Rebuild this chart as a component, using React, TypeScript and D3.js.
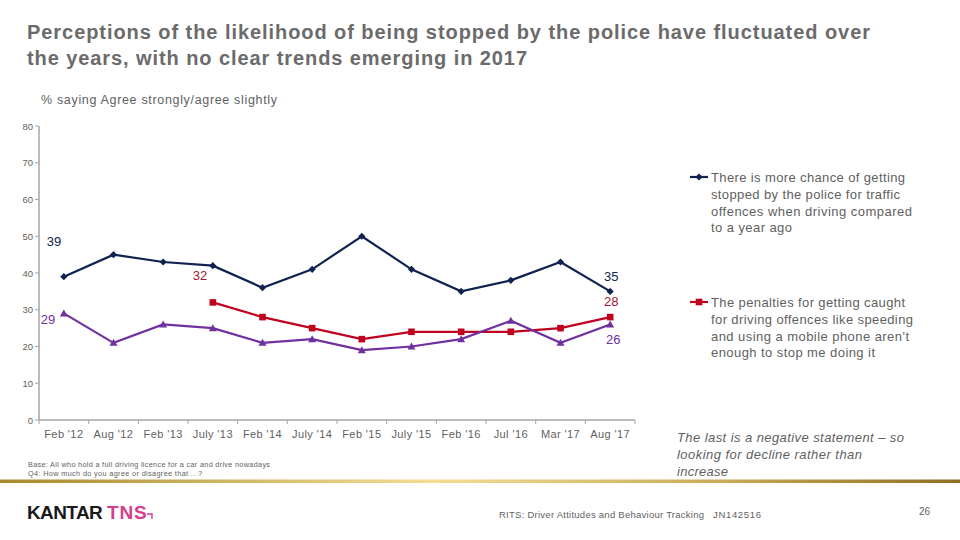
import React from "react";
import * as d3 from "d3";

const categories = ["Feb '12", "Aug '12", "Feb '13", "July '13", "Feb '14", "July '14", "Feb '15", "July '15", "Feb '16", "Jul '16", "Mar '17", "Aug '17"];
const chanceSeries: (number | null)[] = [39, 45, 43, 42, 36, 41, 50, 41, 35, 38, 43, 35];
const penaltySeries: (number | null)[] = [null, null, null, 32, 28, 25, 22, 24, 24, 24, 25, 28];
const thirdSeries: (number | null)[] = [29, 21, 26, 25, 21, 22, 19, 20, 22, 27, 21, 26];
const yTicks = [0, 10, 20, 30, 40, 50, 60, 70, 80];
const legendChance = ["There is more chance of getting", "stopped by the police for traffic", "offences when driving compared", "to a year ago"];
const legendPenalty = ["The penalties for getting caught", "for driving offences like speeding", "and using a mobile phone aren't", "enough to stop me doing it"];
const noteLines = ["The last is a negative statement \u2013 so", "looking for decline rather than", "increase"];

const NAVY = "#10224f";
const RED = "#c0001f";
const PURPLE = "#7030a0";
const GREY = "#5f5f5f";
const AXIS = "#a6a6a6";
const FONT = "'Liberation Sans', Arial, sans-serif";

export default function App() {
  const x0 = 39, x1 = 635, yTop = 126, yBot = 420;
  const x = d3.scaleBand<string>().domain(categories).range([x0, x1]);
  const y = d3.scaleLinear().domain([0, 80]).range([yBot, yTop]);
  const cx = (c: string) => (x(c) as number) + x.bandwidth() / 2;

  const line = d3.line<number | null>()
    .defined((d) => d !== null)
    .x((_, i) => cx(categories[i]))
    .y((d) => y(d as number));

  const pts = (s: (number | null)[]) =>
    s.map((v, i) => ({ v, c: categories[i] })).filter((p) => p.v !== null) as { v: number; c: string }[];

  const diamond = (px: number, py: number, r = 3.6) =>
    `M${px},${py - r}L${px + r},${py}L${px},${py + r}L${px - r},${py}Z`;
  const tri = (px: number, py: number, r = 4) =>
    `M${px},${py - r}L${px + r},${py + r * 0.75}L${px - r},${py + r * 0.75}Z`;

  const last = categories.length - 1;
  const legendW1 = [194, 189, 201, 81];
  const legendW2 = [194, 202, 198, 164];
  const noteW = [227, 185, 51];

  return (
    <svg width={960} height={540} style={{ position: "absolute", left: 0, top: 0, fontFamily: FONT }}>
      <defs>
        <linearGradient id="gold" x1="0" x2="1" y1="0" y2="0">
          <stop offset="0" stopColor="#a8892f" />
          <stop offset="0.45" stopColor="#f3dd95" />
          <stop offset="0.75" stopColor="#c9ab5a" />
          <stop offset="1" stopColor="#8f6f22" />
        </linearGradient>
      </defs>
      <rect width={960} height={540} fill="#fff" />
      <text x={27} y={39} fontSize={20} fontWeight="bold" fill="#6b6b6b" textLength={843} lengthAdjust="spacing">
        Perceptions of the likelihood of being stopped by the police have fluctuated over
      </text>
      <text x={27} y={65} fontSize={20} fontWeight="bold" fill="#6b6b6b" textLength={500} lengthAdjust="spacing">
        the years, with no clear trends emerging in 2017
      </text>
      <text x={41} y={104} fontSize={12.5} fill={GREY} textLength={236} lengthAdjust="spacing">% saying Agree strongly/agree slightly</text>

      {/* y axis */}
      <line x1={x0} x2={x0} y1={yTop} y2={yBot} stroke={AXIS} strokeWidth={1.5} />
      {yTicks.map((t) => (
        <g key={t}>
          <line x1={x0 - 4} x2={x0} y1={y(t)} y2={y(t)} stroke={AXIS} />
          <text x={33} y={y(t) + 3.5} fontSize={9.5} textAnchor="end" fill={GREY}>{t}</text>
        </g>
      ))}
      {/* x axis */}
      <line x1={x0} x2={x1} y1={yBot} y2={yBot} stroke={AXIS} strokeWidth={1.5} />
      {categories.map((c, i) => (
        <g key={c}>
          <line x1={(x(c) as number) + x.bandwidth()} x2={(x(c) as number) + x.bandwidth()} y1={yBot} y2={yBot + 4} stroke={AXIS} />
          {i === 0 && <line x1={x0} x2={x0} y1={yBot} y2={yBot + 4} stroke={AXIS} />}
          <text x={cx(c)} y={438} fontSize={11} textAnchor="middle" fill={GREY} letterSpacing={0.4}>{c}</text>
        </g>
      ))}

      {/* series */}
      <path d={line(chanceSeries) as string} fill="none" stroke={NAVY} strokeWidth={2.2} />
      {pts(chanceSeries).map((p) => <path key={p.c} d={diamond(cx(p.c), y(p.v))} fill={NAVY} />)}
      <path d={line(penaltySeries) as string} fill="none" stroke={RED} strokeWidth={2.2} />
      {pts(penaltySeries).map((p) => <rect key={p.c} x={cx(p.c) - 3.3} y={y(p.v) - 3.3} width={6.6} height={6.6} fill={RED} />)}
      <path d={line(thirdSeries) as string} fill="none" stroke={PURPLE} strokeWidth={2.2} />
      {pts(thirdSeries).map((p) => <path key={p.c} d={tri(cx(p.c), y(p.v))} fill={PURPLE} />)}

      {/* data labels */}
      <text x={cx(categories[0]) - 17} y={y(chanceSeries[0] as number) - 31} fontSize={13} fill={NAVY}>{chanceSeries[0]}</text>
      <text x={cx(categories[0]) - 23} y={y(thirdSeries[0] as number) + 11} fontSize={13} fill={PURPLE}>{thirdSeries[0]}</text>
      <text x={cx(categories[3]) - 20} y={y(penaltySeries[3] as number) - 22} fontSize={13} fill={"#a01530"}>{penaltySeries[3]}</text>
      <text x={cx(categories[last]) + 1} y={y(chanceSeries[last] as number) - 10} fontSize={13} textAnchor="middle" fill={NAVY}>{chanceSeries[last]}</text>
      <text x={cx(categories[last]) + 1} y={y(penaltySeries[last] as number) - 11} fontSize={13} textAnchor="middle" fill={"#a01530"}>{penaltySeries[last]}</text>
      <text x={cx(categories[last]) + 3} y={y(thirdSeries[last] as number) + 20} fontSize={13} textAnchor="middle" fill={PURPLE}>{thirdSeries[last]}</text>

      {/* legend */}
      <line x1={690} x2={708} y1={177} y2={177} stroke={NAVY} strokeWidth={2.2} />
      <path d={diamond(699, 177)} fill={NAVY} />
      {legendChance.map((t, i) => (
        <text key={t} x={711} y={182 + i * 16.8} fontSize={13} fill={GREY} textLength={legendW1[i]} lengthAdjust="spacing">{t}</text>
      ))}
      <line x1={690} x2={708} y1={302} y2={302} stroke={RED} strokeWidth={2.2} />
      <rect x={695.7} y={298.7} width={6.6} height={6.6} fill={RED} />
      {legendPenalty.map((t, i) => (
        <text key={t} x={711} y={307 + i * 16.8} fontSize={13} fill={GREY} textLength={legendW2[i]} lengthAdjust="spacing">{t}</text>
      ))}

      {/* note */}
      {noteLines.map((t, i) => (
        <text key={t} x={677} y={442 + i * 17} fontSize={13} fontStyle="italic" fill={GREY} textLength={noteW[i]} lengthAdjust="spacing">{t}</text>
      ))}

      {/* base */}
      <text x={28} y={467} fontSize={7.3} fill={GREY} textLength={242} lengthAdjust="spacing">Base: All who hold a full driving licence for a car and drive nowadays</text>
      <text x={28} y={476} fontSize={7.3} fill={GREY} textLength={174} lengthAdjust="spacing">Q4: How much do you agree or disagree that .. ?</text>

      <rect x={0} y={479.5} width={960} height={3.5} fill="url(#gold)" />

      {/* footer */}
      <text x={27} y={519} fontSize={19} fontWeight="bold" fill="#1a1a1a" letterSpacing={-0.6}>KANTAR</text>
      <text x={107} y={519} fontSize={19} fontWeight="bold" fill="#d43f8d" letterSpacing={0.8}>TNS</text>
      <path d="M147,514 h5 v5" fill="none" stroke="#d43f8d" strokeWidth={1.4} />
      <text x={499} y={518} fontSize={9.5} fill={GREY} textLength={205} lengthAdjust="spacing">RITS: Driver Attitudes and Behaviour Tracking</text>
      <text x={713} y={518} fontSize={9.5} fill={GREY} textLength={48} lengthAdjust="spacing">JN142516</text>
      <text x={919} y={515} fontSize={10} fill={GREY}>26</text>
    </svg>
  );
}
